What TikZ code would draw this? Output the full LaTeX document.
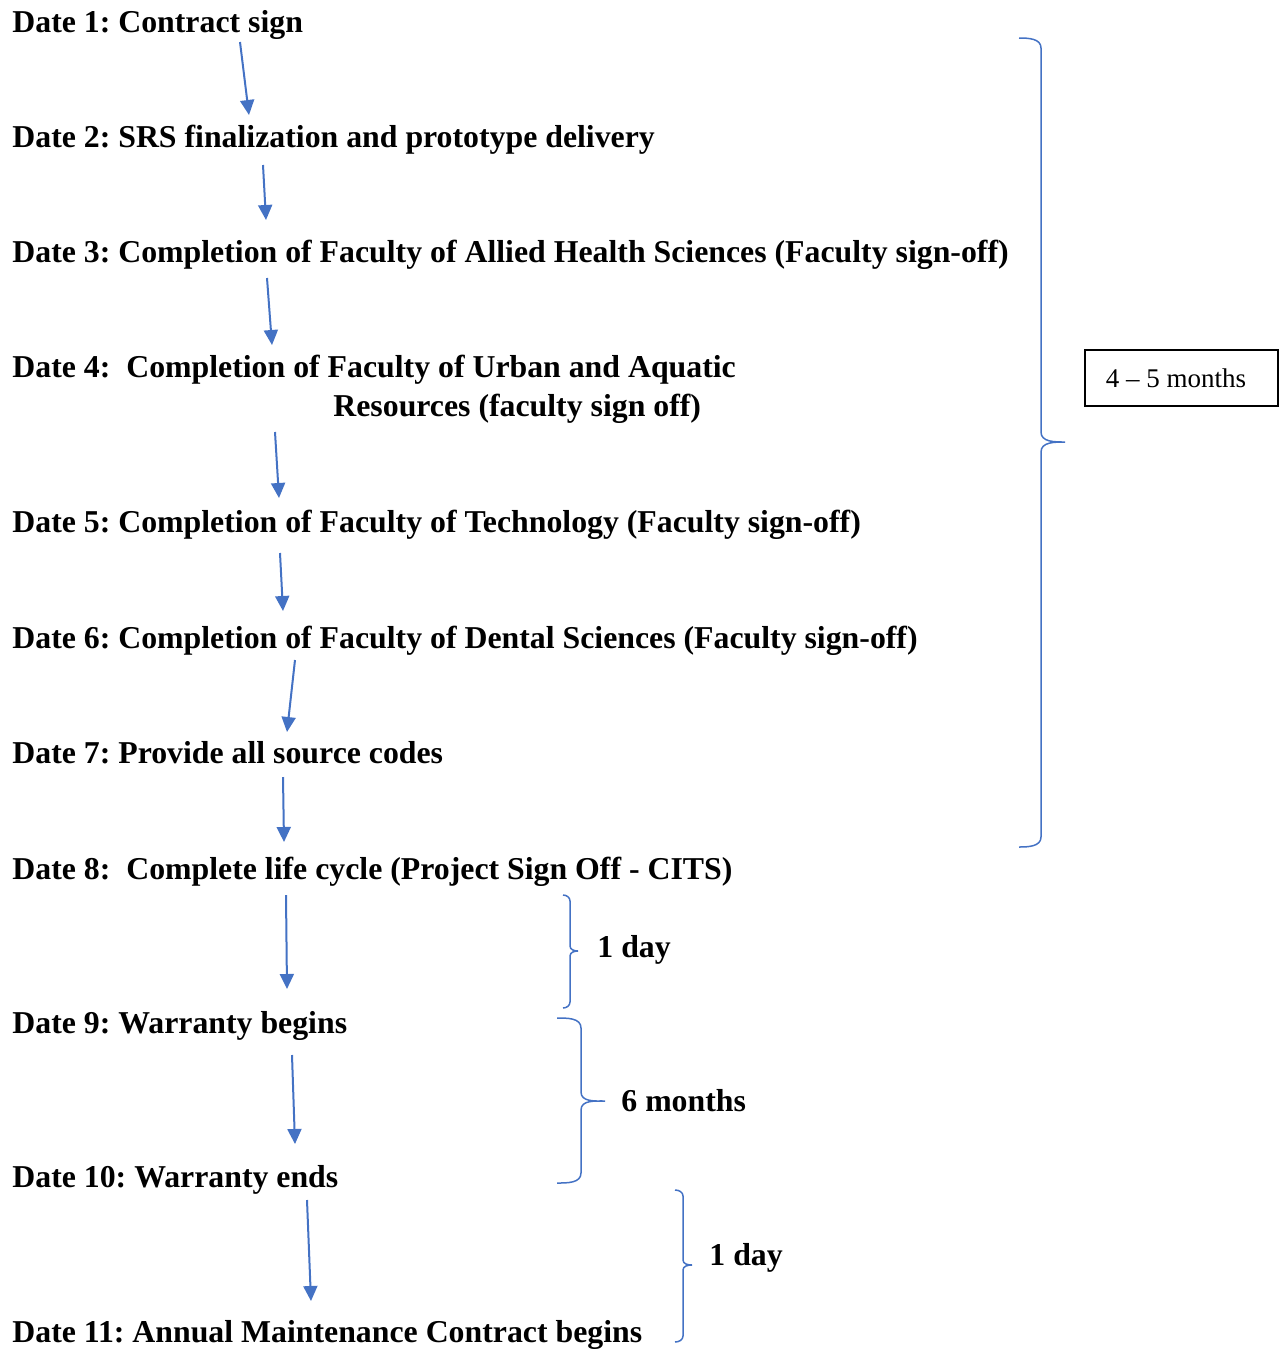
\documentclass[tikz,border=0pt]{standalone}
\usepackage{fontspec}
\setmainfont{Liberation Serif}
\usetikzlibrary{positioning,arrows.meta}
\definecolor{lineblue}{RGB}{68,114,196}

\begin{document}
\frenchspacing
\begin{tikzpicture}[x=0.5pt,y=-0.5pt,
	datenode/.style={anchor=base west, inner sep=0pt, font=\fontsize{15.9}{19}\selectfont\bfseries},
	flow/.style={-{Triangle[length=7.5pt,width=7pt]}, color=lineblue, line width=1pt},
	span/.style={draw=lineblue, line width=0.75pt},
	]
	\useasboundingbox (0,0) rectangle (1285,1351);
	%Nodes
	\node[datenode] (d1)  at (12,32)   {Date 1: Contract sign};
	\node[datenode] (d2)  at (12,147)  {Date 2: SRS finalization and prototype delivery};
	\node[datenode] (d3)  at (12,262)  {Date 3: Completion of Faculty of Allied Health Sciences (Faculty sign-off)};
	\node[datenode] (d4)  at (12,377)  {Date 4:\ \ Completion of Faculty of Urban and Aquatic};
	\node[datenode] (d4r) at (333,416) {Resources (faculty sign off)};
	\node[datenode] (d5)  at (12,532)  {Date 5: Completion of Faculty of Technology (Faculty sign-off)};
	\node[datenode] (d6)  at (12,648)  {Date 6: Completion of Faculty of Dental Sciences (Faculty sign-off)};
	\node[datenode] (d7)  at (12,763)  {Date 7: Provide all source codes};
	\node[datenode] (d8)  at (12,879)  {Date 8:\ \ Complete life cycle (Project Sign Off - CITS)};
	\node[datenode] (d9)  at (12,1033) {Date 9: Warranty begins};
	\node[datenode] (d10) at (12,1187) {Date 10: Warranty ends};
	\node[datenode] (d11) at (12,1342) {Date 11: Annual Maintenance Contract begins};
	
	\node[draw, line width=0.7pt, minimum width=96.5pt, minimum height=28pt, inner sep=0pt, font=\fontsize{13.5}{16}\selectfont] (total) at (1181.5,378) {4 -- 5 months\hspace*{5.5pt}};
	\node[datenode] (day1)   at (597,957)  {1 day};
	\node[datenode] (months) at (621,1111) {6 months};
	\node[datenode] (day2)   at (709,1265) {1 day};
	
	%Lines
	\draw[flow] ([shift={(228,10)}]d1.base west)  -- ([shift={(237,-32)}]d2.base west);
	\draw[flow] ([shift={(251,18)}]d2.base west)  -- ([shift={(254,-42)}]d3.base west);
	\draw[flow] ([shift={(255,16)}]d3.base west)  -- ([shift={(260,-32)}]d4.base west);
	\draw[flow] ([shift={(-58,16)}]d4r.base west) -- ([shift={(267,-34)}]d5.base west);
	\draw[flow] ([shift={(268,21)}]d5.base west)  -- ([shift={(271,-37)}]d6.base west);
	\draw[flow] ([shift={(283,12)}]d6.base west)  -- ([shift={(275,-31)}]d7.base west);
	\draw[flow] ([shift={(271,14)}]d7.base west)  -- ([shift={(272,-37)}]d8.base west);
	\draw[flow] ([shift={(274,16)}]d8.base west)  -- ([shift={(275,-44)}]d9.base west);
	\draw[flow] ([shift={(280,22)}]d9.base west)  -- ([shift={(283,-43)}]d10.base west);
	\draw[flow] ([shift={(295,13)}]d10.base west) -- ([shift={(299,-41)}]d11.base west);
	
	%Braces
	\draw[span] (1019,38) to[out=0,in=90] (1041,48) -- (1041,432) to[out=-90,in=180] (1065,442)
		to[out=180,in=90] (1041,452) -- (1041,837) to[out=-90,in=0] (1019,847);
	\draw[span] (563,895) to[out=0,in=90] (570,901) -- (570,946) to[out=-90,in=180] (578,951)
		to[out=180,in=90] (570,956) -- (570,1002) to[out=-90,in=0] (563,1008);
	\draw[span] (557,1018) to[out=0,in=90] (581,1028) -- (581,1092) to[out=-90,in=180] (605,1101)
		to[out=180,in=90] (581,1110) -- (581,1173) to[out=-90,in=0] (557,1183);
	\draw[span] (675,1190) to[out=0,in=90] (683,1196) -- (683,1260) to[out=-90,in=180] (692,1265)
		to[out=180,in=90] (683,1270) -- (683,1336) to[out=-90,in=0] (675,1342);
\end{tikzpicture}
\end{document}
